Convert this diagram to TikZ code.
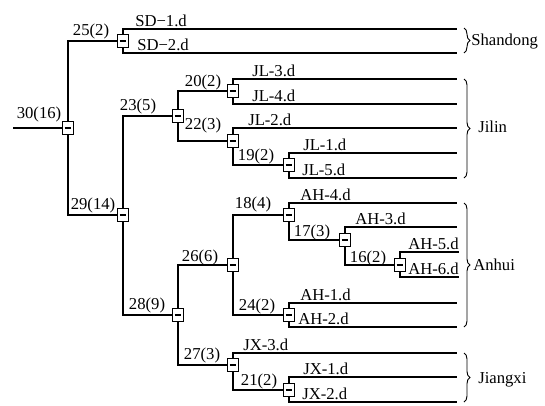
\documentclass[tikz,border=0pt]{standalone}
\usepackage{fontspec}
\setmainfont{Liberation Serif}
\usetikzlibrary{decorations.pathreplacing}
\begin{document}
\begin{tikzpicture}[x=0.75pt,y=-0.75pt,
  branch/.style={line width=1.5pt},
  thinbranch/.style={line width=0.8pt},
  junction/.style={draw, fill=white, line width=0.9pt, minimum width=8.25pt,
    minimum height=9.75pt, inner sep=0pt,
    path picture={\draw[line width=1.1pt]
      ([xshift=-2.6pt]path picture bounding box.center) --
      ([xshift=2.6pt]path picture bounding box.center);}},
  lab/.style={font=\fontsize{12.5}{14}\selectfont, inner sep=0pt, anchor=base},
  leaf/.style={font=\fontsize{12.5}{14}\selectfont, inner sep=0pt, anchor=base west},
  grp/.style={decorate, decoration={brace, amplitude=4.5pt}, line width=0.7pt},
]
\useasboundingbox (0,0) rectangle (545,405);

% branch points
\coordinate (r0)  at (13,128);
\coordinate (n30) at (68,128);
\coordinate (n25) at (123,41);
\coordinate (n29) at (123,215);
\coordinate (n23) at (178,116);
\coordinate (n20) at (233,91);
\coordinate (n22) at (233,141);
\coordinate (n19) at (289,165);
\coordinate (n28) at (178,315);
\coordinate (n26) at (233,265);
\coordinate (n18) at (289,215);
\coordinate (n17) at (345,240);
\coordinate (n16) at (400,265);
\coordinate (n24) at (289,315);
\coordinate (n27) at (233,365);
\coordinate (n21) at (289,390);

% leaf ends
\coordinate (sd1) at (457,29);
\coordinate (sd2) at (457,53);
\coordinate (jl3) at (457,79);
\coordinate (jl4) at (457,104);
\coordinate (jl2) at (457,128);
\coordinate (jl1) at (457,153);
\coordinate (jl5) at (457,178);
\coordinate (ah4) at (457,203);
\coordinate (ah3) at (457,227);
\coordinate (ah5) at (459,252);
\coordinate (ah6) at (459,277);
\coordinate (ah1) at (457,303);
\coordinate (ah2) at (457,327);
\coordinate (jx3) at (457,353);
\coordinate (jx1) at (457,377);
\coordinate (jx2) at (457,402);

% tree edges
\draw[branch] (r0) -- (n30);
\draw[branch] (n30) |- (n25);
\draw[branch] (n30) |- (n29);
\draw[branch] (n25) |- (sd1);
\draw[thinbranch] (n25) |- (sd2);
\draw[branch] (n29) |- (n23);
\draw[branch] (n29) |- (n28);
\draw[branch] (n23) |- (n20);
\draw[branch] (n23) |- (n22);
\draw[branch] (n20) |- (jl3);
\draw[branch] (n20) |- (jl4);
\draw[branch] (n22) |- (jl2);
\draw[branch] (n22) |- (n19);
\draw[branch] (n19) |- (jl1);
\draw[branch] (n19) |- (jl5);
\draw[branch] (n28) |- (n26);
\draw[branch] (n28) |- (n27);
\draw[branch] (n26) |- (n18);
\draw[branch] (n26) |- (n24);
\draw[branch] (n18) |- (ah4);
\draw[branch] (n18) |- (n17);
\draw[branch] (n17) |- (ah3);
\draw[branch] (n17) |- (n16);
\draw[branch] (n16) |- (ah5);
\draw[branch] (n16) |- (ah6);
\draw[branch] (n24) |- (ah1);
\draw[branch] (n24) |- (ah2);
\draw[branch] (n27) |- (jx3);
\draw[branch] (n27) |- (n21);
\draw[branch] (n21) |- (jx1);
\draw[branch] (n21) |- (jx2);

% junction boxes
\foreach \k in {30,25,29,23,20,22,19,28,26,18,17,16,24,27,21}
  \node[junction] (j\k) at (n\k) {};

% internal labels
\node[lab] (l30) at (39,118) {30(16)};
\node[lab] (l25) at (91,35) {25(2)};
\node[lab] (l29) at (93,209) {29(14)};
\node[lab] (l23) at (138,110) {23(5)};
\node[lab] (l20) at (203,86) {20(2)};
\node[lab] (l22) at (203,129) {22(3)};
\node[lab] (l19) at (256,160) {19(2)};
\node[lab] (l28) at (147,309) {28(9)};
\node[lab] (l26) at (200,261) {26(6)};
\node[lab] (l18) at (253,208) {18(4)};
\node[lab] (l17) at (312,236) {17(3)};
\node[lab] (l16) at (368,262) {16(2)};
\node[lab] (l24) at (257,310) {24(2)};
\node[lab] (l27) at (202,359) {27(3)};
\node[lab] (l21) at (259,385) {21(2)};

% leaf labels
\node[leaf] (t1)  at (135,26)  {SD−1.d};
\node[leaf] (t2)  at (137,50)  {SD−2.d};
\node[leaf] (t3)  at (252,76)  {JL-3.d};
\node[leaf] (t4)  at (252,101) {JL-4.d};
\node[leaf] (t5)  at (248,125) {JL-2.d};
\node[leaf] (t6)  at (303,150) {JL-1.d};
\node[leaf] (t7)  at (302,175) {JL-5.d};
\node[leaf] (t8)  at (300,200) {AH-4.d};
\node[leaf] (t9)  at (355,224) {AH-3.d};
\node[leaf] (t10) at (408,249) {AH-5.d};
\node[leaf] (t11) at (408,274) {AH-6.d};
\node[leaf] (t12) at (300,300) {AH-1.d};
\node[leaf] (t13) at (298,324) {AH-2.d};
\node[leaf] (t14) at (243,350) {JX-3.d};
\node[leaf] (t15) at (303,374) {JX-1.d};
\node[leaf] (t16) at (302,399) {JX-2.d};

% provinces
\coordinate (g1a) at (464,28);  \coordinate (g1b) at (464,53);
\coordinate (g2a) at (464,79);  \coordinate (g2b) at (464,178);
\coordinate (g3a) at (464,203); \coordinate (g3b) at (464,327);
\coordinate (g4a) at (464,353); \coordinate (g4b) at (464,402);
\draw[grp] (g1a) -- (g1b);
\draw[grp] (g2a) -- (g2b);
\draw[grp] (g3a) -- (g3b);
\draw[grp] (g4a) -- (g4b);
\node[leaf] (p1) at (471,45)  {Shandong};
\node[leaf] (p2) at (478,132) {Jilin};
\node[leaf] (p3) at (473,270) {Anhui};
\node[leaf] (p4) at (478,383) {Jiangxi};
\end{tikzpicture}
\end{document}
